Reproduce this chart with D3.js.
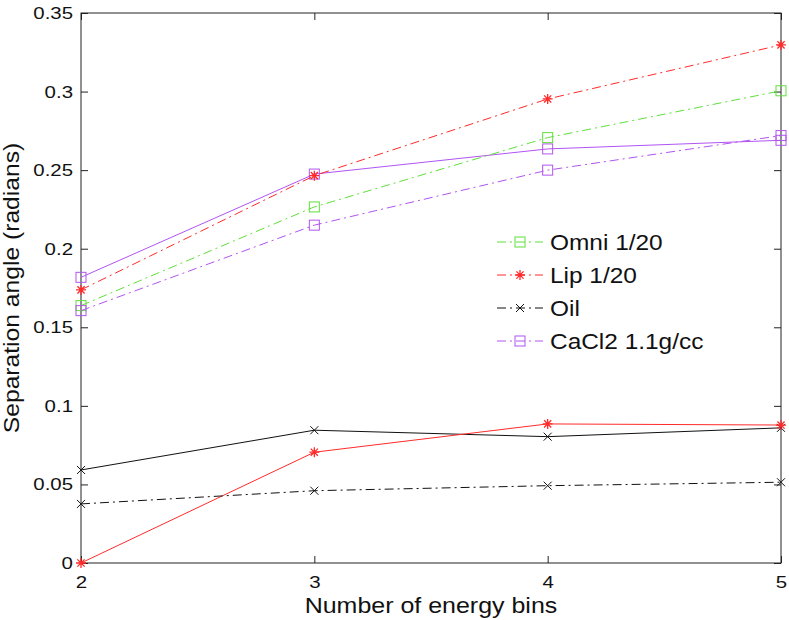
<!DOCTYPE html>
<html><head><meta charset="utf-8">
<script src="https://cdn.jsdelivr.net/npm/d3@7"></script>
<style>body{margin:0;background:#fff}text{font-family:"Liberation Sans",Arial,sans-serif}</style>
</head><body><svg id="c" width="789" height="620"></svg>
<script>
const bins = [2, 3, 4, 5];
const yTicks = [0, 0.05, 0.1, 0.15, 0.2, 0.25, 0.3, 0.35];
const omniDash = [0.1638, 0.2266, 0.2707, 0.3005];
const lipDash = [0.1738, 0.2465, 0.2953, 0.3297];
const oilDash = [0.0376, 0.0460, 0.0492, 0.0514];
const cacl2Dash = [0.1606, 0.2150, 0.2500, 0.2720];
const cacl2Solid = [0.1818, 0.2475, 0.2635, 0.2690];
const lipSolid = [0.0000, 0.0705, 0.0885, 0.0878];
const oilSolid = [0.0592, 0.0845, 0.0804, 0.0860];
const legendNames = ["Omni 1/20", "Lip 1/20", "Oil", "CaCl2 1.1g/cc"];

const green = "#5fe03a", red = "#ff2a2a", black = "#111", purple = "#b154f2";
const series = [
  {v: oilSolid, c: black, m: "x", dash: null},
  {v: lipSolid, c: red, m: "*", dash: null},
  {v: cacl2Solid, c: purple, m: "s", dash: null},
  {v: omniDash, c: green, m: "s", dash: "9,4,2,4", leg: 0},
  {v: lipDash, c: red, m: "*", dash: "9,4,2,4", leg: 1},
  {v: oilDash, c: black, m: "x", dash: "9,4,2,4", leg: 2},
  {v: cacl2Dash, c: purple, m: "s", dash: "9,4,2,4", leg: 3}
];

const L = 81, R = 781, T = 13, B = 563;
const svg = d3.select("#c");
const x = d3.scaleLinear().domain([2, 5]).range([L, R]);
const y = d3.scaleLinear().domain([0, 0.35]).range([B, T]);

function marker(g, m, cx, cy, c) {
  if (m === "s") {
    g.append("rect").attr("x", cx - 5).attr("y", cy - 5).attr("width", 10).attr("height", 10)
      .attr("fill", "none").attr("stroke", c).attr("stroke-width", 1);
  } else if (m === "x") {
    g.append("path").attr("d", `M${cx-4},${cy-4}L${cx+4},${cy+4}M${cx-4},${cy+4}L${cx+4},${cy-4}`)
      .attr("stroke", c).attr("stroke-width", 1);
  } else {
    const r = 5;
    let d = `M${cx},${cy-r}L${cx},${cy+r}M${cx-r},${cy}L${cx+r},${cy}`;
    const k = r * 0.72;
    d += `M${cx-k},${cy-k}L${cx+k},${cy+k}M${cx-k},${cy+k}L${cx+k},${cy-k}`;
    g.append("path").attr("d", d).attr("stroke", c).attr("stroke-width", 1.3);
  }
}

function widen(sel, k) {
  sel.each(function() {
    const w = this.getComputedTextLength();
    this.setAttribute("textLength", (w * k).toFixed(1));
    this.setAttribute("lengthAdjust", "spacingAndGlyphs");
  });
}

// axes box
svg.append("rect").attr("x", L).attr("y", T).attr("width", R - L).attr("height", B - T)
  .attr("fill", "none").attr("stroke", "#222").attr("stroke-width", 1);

const xAxis = d3.axisBottom(x).tickValues(bins).tickSize(-7).tickPadding(13).tickFormat(d3.format("d"));
const gx = svg.append("g").attr("transform", `translate(0,${B})`).call(xAxis);
svg.append("g").attr("transform", `translate(0,${T})`)
  .call(d3.axisTop(x).tickValues(bins).tickSize(-7).tickFormat(""));
const yAxis = d3.axisLeft(y).tickValues(yTicks).tickSize(-7).tickPadding(8)
  .tickFormat(d => d === 0 ? "0" : String(+d.toFixed(2)));
svg.append("g").attr("transform", `translate(${L},0)`).call(yAxis);
svg.append("g").attr("transform", `translate(${R},0)`)
  .call(d3.axisRight(y).tickValues(yTicks).tickSize(-7).tickFormat(""));
svg.selectAll(".domain").remove();
svg.selectAll(".tick line").attr("stroke", "#222");
svg.selectAll(".tick text").attr("font-size", 17).attr("fill", "#111")
  .attr("font-family", "'Liberation Sans', Arial, sans-serif");
gx.selectAll(".tick text").attr("dy", "0.71em");
widen(svg.selectAll(".tick text"), 1.2);

// lines
const line = d3.line().x((d, i) => x(bins[i])).y(d => y(d));
const pg = svg.append("g");
series.forEach(s => {
  pg.append("path").attr("d", line(s.v)).attr("fill", "none").attr("stroke", s.c)
    .attr("stroke-width", 1).attr("stroke-dasharray", s.dash);
  s.v.forEach((d, i) => marker(pg, s.m, x(bins[i]), y(d), s.c));
});

// legend
const lg = svg.append("g");
const legY = [242, 275, 308, 341];
series.filter(s => s.leg !== undefined).forEach(s => {
  const yy = legY[s.leg];
  lg.append("path").attr("d", `M497,${yy}L543,${yy}`).attr("stroke", s.c).attr("stroke-width", 1)
    .attr("stroke-dasharray", "9,4,2,4");
  marker(lg, s.m, 520, yy, s.c);
  lg.append("text").attr("x", 550).attr("y", yy).attr("dy", "0.35em").attr("font-size", 22)
    .attr("fill", "#111").text(legendNames[s.leg]);
});
widen(lg.selectAll("text"), 1.11);

// axis labels
const xl = svg.append("text").attr("x", 431).attr("y", 613).attr("text-anchor", "middle")
  .attr("font-size", 22).attr("fill", "#111").text("Number of energy bins");
const yl = svg.append("text").attr("transform", `translate(19,${(T + B) / 2}) rotate(-90)`).attr("text-anchor", "middle")
  .attr("font-size", 22).attr("fill", "#111").text("Separation angle (radians)");
widen(xl, 1.135);
widen(yl, 1.12);
</script></body></html>
